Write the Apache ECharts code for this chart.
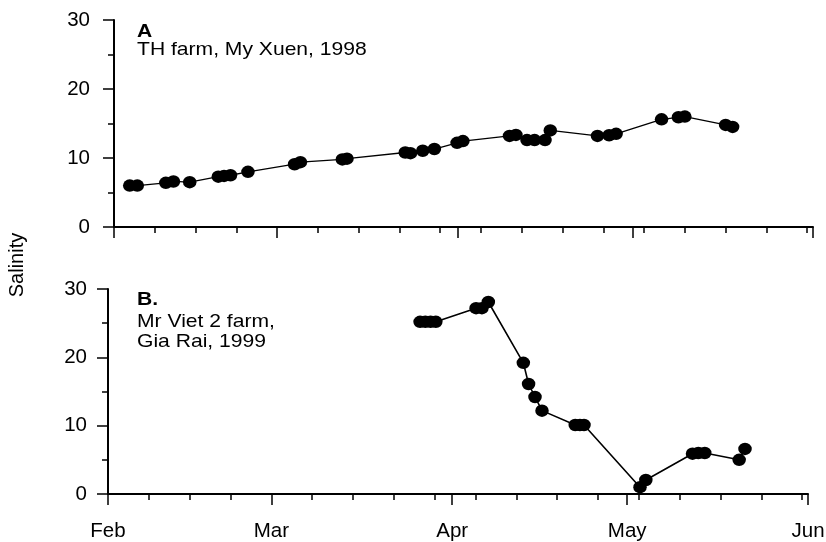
<!DOCTYPE html>
<html>
<head>
<meta charset="utf-8">
<script src="https://cdn.jsdelivr.net/npm/echarts@6/dist/echarts.min.js"></script>
<style>html,body{margin:0;padding:0;background:#fff}#c{width:826px;height:542px}</style>
</head>
<body>
<div id="c"></div>
<script>
// x values are days since 1 February of the season year
var monthTicks = [0, 28, 59, 89, 120];
var monthLabels = ['Feb', 'Mar', 'Apr', 'May', 'Jun'];
var weekTicks = [0, 7, 14, 21, 28, 35, 42, 49, 56, 63, 70, 77, 84, 91, 98, 105, 112, 119];

// Panel A: TH farm, My Xuen, 1998
var daysA = [2.7, 4.0, 8.9, 10.2, 13.0, 17.9, 18.9, 20.0, 23.0, 31.0, 32.0, 39.2, 40.0, 50.0, 50.9, 53.0, 55.0, 58.9, 59.9, 67.9, 69.0, 70.9, 72.2, 74.0, 74.9, 83.0, 85.0, 86.2, 94.0, 96.9, 98.0, 105.0, 106.2];
var salA  = [6.0, 6.0, 6.4, 6.6, 6.5, 7.3, 7.4, 7.5, 8.0, 9.1, 9.4, 9.8, 9.9, 10.8, 10.7, 11.05, 11.3, 12.2, 12.45, 13.2, 13.35, 12.6, 12.6, 12.6, 14.0, 13.2, 13.3, 13.5, 15.6, 15.9, 16.0, 14.8, 14.5];

// Panel B: Mr Viet 2 farm, Gia Rai, 1999
var daysB = [53.5, 54.4, 55.3, 56.2, 63.1, 64.1, 65.2, 71.2, 72.1, 73.2, 74.4, 80.1, 80.9, 81.6, 91.2, 92.2, 100.2, 101.2, 102.3, 108.2, 109.2];
var salB  = [25.2, 25.2, 25.2, 25.2, 27.2, 27.2, 28.1, 19.2, 16.1, 14.2, 12.2, 10.1, 10.1, 10.1, 1.0, 2.05, 5.9, 6.0, 6.0, 5.0, 6.6];

var yTicks = [0, 10, 20, 30];

function pairs(xs, ys) { return xs.map(function (x, i) { return [x, ys[i]]; }); }

var FONT = 'Liberation Sans, Arial, sans-serif';
var black = '#000';

function weekAxis(gi) {
  return {
    type: 'value', gridIndex: gi, min: 0, max: 120, position: 'bottom',
    axisLine: { show: true, onZero: false, lineStyle: { color: black, width: 2 } },
    axisTick: { show: true, customValues: weekTicks, length: 6, lineStyle: { color: black, width: 1.5 } },
    axisLabel: { show: false },
    splitLine: { show: false }
  };
}
function monthAxis(gi, showLabels) {
  return {
    type: 'value', gridIndex: gi, min: 0, max: 120, position: 'bottom',
    axisLine: { show: false, onZero: false },
    axisTick: { show: true, customValues: monthTicks, length: 11, lineStyle: { color: black, width: 1.5 } },
    axisLabel: {
      show: showLabels, customValues: monthTicks, margin: 27, color: black,
      fontSize: 20.5, fontFamily: FONT,
      formatter: function (v) { var i = monthTicks.indexOf(v); return i >= 0 ? monthLabels[i] : ''; }
    },
    splitLine: { show: false }
  };
}
function yAxis(gi, margin) {
  return {
    type: 'value', gridIndex: gi, min: yTicks[0], max: yTicks[yTicks.length - 1], interval: 10,
    axisLine: { show: true, lineStyle: { color: black, width: 2 } },
    axisTick: { show: true, length: 11, lineStyle: { color: black, width: 1.5 } },
    minorTick: { show: true, splitNumber: 2, length: 6, lineStyle: { color: black, width: 1.5 } },
    axisLabel: { color: black, fontSize: 20.5, fontFamily: FONT, margin: margin },
    splitLine: { show: false }, minorSplitLine: { show: false }
  };
}

var SX = 1.11;
function label(x, y, text, bold) {
  return { type: 'text', x: x, y: y, scaleX: SX,
    style: { text: text, font: (bold ? 'bold ' : '') + '19px ' + FONT, fill: black, align: 'left', verticalAlign: 'top' } };
}

var chart = echarts.init(document.getElementById('c'), null, { renderer: 'canvas' });
chart.setOption({
  animation: false,
  backgroundColor: '#fff',
  grid: [
    { left: 114, right: 13, top: 20, height: 207, containLabel: false, outerBoundsMode: 'none' },
    { left: 108, right: 18, top: 289, height: 205, containLabel: false, outerBoundsMode: 'none' }
  ],
  xAxis: [weekAxis(0), monthAxis(0, false), weekAxis(1), monthAxis(1, true)],
  yAxis: [yAxis(0, 24), yAxis(1, 21)],
  series: [
    {
      type: 'line', xAxisIndex: 0, yAxisIndex: 0, data: pairs(daysA, salA),
      symbol: 'circle', symbolSize: [13.5, 12.5], showAllSymbol: true,
      itemStyle: { color: black }, lineStyle: { color: black, width: 1.3 }
    },
    {
      type: 'line', xAxisIndex: 2, yAxisIndex: 1, data: pairs(daysB, salB),
      symbol: 'circle', symbolSize: [13.5, 12.5], showAllSymbol: true,
      itemStyle: { color: black }, lineStyle: { color: black, width: 1.6 }
    }
  ],
  graphic: [
    label(137, 22, 'A', true),
    label(137, 40, 'TH farm, My Xuen, 1998', false),
    label(137, 290, 'B.', true),
    label(137, 312, 'Mr Viet 2 farm,', false),
    label(137, 332, 'Gia Rai, 1999', false),
    { type: 'text', x: 17, y: 265, rotation: Math.PI / 2,
      style: { text: 'Salinity', font: '20px ' + FONT, fill: black, align: 'center', verticalAlign: 'middle' } }
  ]
});
</script>
</body>
</html>
